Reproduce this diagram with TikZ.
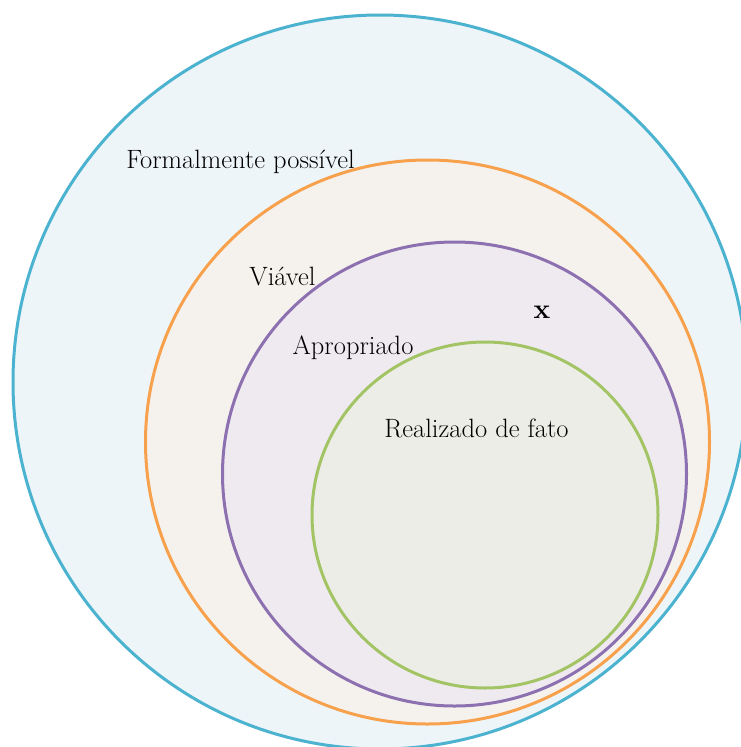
\documentclass[tikz,border=0pt]{standalone}
\usepackage{fontspec}
\definecolor{cblue}{HTML}{4BB3CF}
\definecolor{fblue}{HTML}{EEF5F9}
\definecolor{corange}{HTML}{F7A14D}
\definecolor{forange}{HTML}{F5F2EE}
\definecolor{cpurple}{HTML}{8C70B0}
\definecolor{fpurple}{HTML}{EFEAF0}
\definecolor{cgreen}{HTML}{A3C464}
\definecolor{fgreen}{HTML}{EDEDE7}
\begin{document}
\begin{tikzpicture}[x=1pt,y=-1pt,
  ring/.style={line width=3pt},
  lbl/.style={font=\fontsize{26.5}{30}\selectfont, inner sep=0pt, anchor=base}]
\useasboundingbox (0,0) rectangle (741,747);
\clip (0,0) rectangle (741,747);
\fill[white] (0,0) rectangle (741,747);
\draw[ring, draw=cblue, fill=fblue] (380,382) circle[radius=367];
\draw[ring, draw=corange, fill=forange] (427.5,442) circle[radius=282];
\draw[ring, draw=cpurple, fill=fpurple] (454.5,474) circle[radius=232];
\draw[ring, draw=cgreen, fill=fgreen] (485,515) circle[radius=173];
\node[lbl] (formal) at (240.5,168) {Formalmente possível};
\node[lbl] (viavel) at (282.5,285) {Viável};
\node[lbl] (aprop) at (353,354) {Apropriado};
\node[lbl] (real) at (476.5,437) {Realizado de fato};
\node[lbl, font=\fontsize{28}{32}\selectfont\bfseries] (x) at (542,318) {x};
\end{tikzpicture}
\end{document}
